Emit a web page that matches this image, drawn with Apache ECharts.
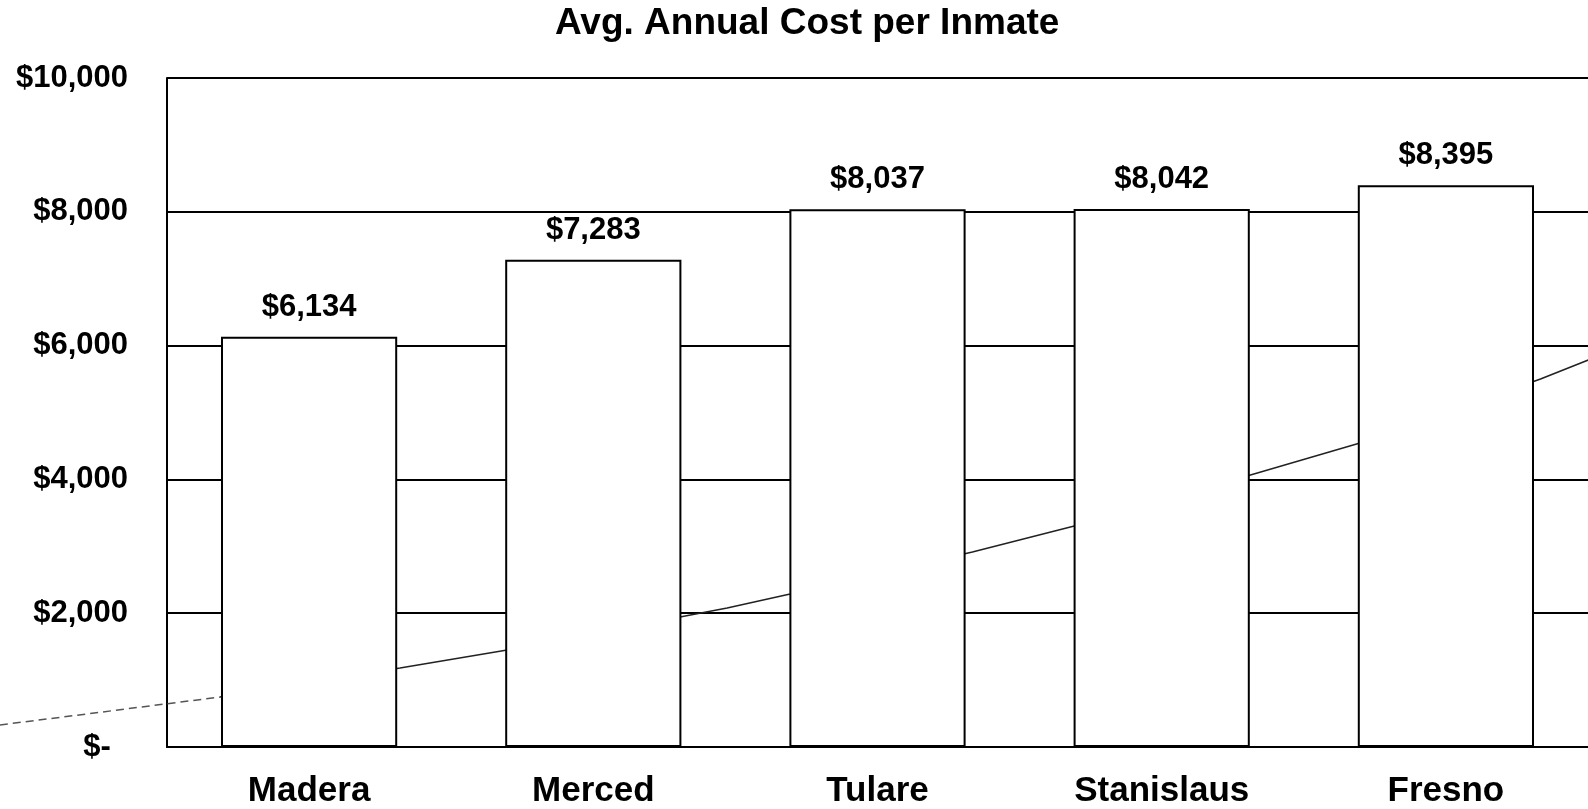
<!DOCTYPE html>
<html>
<head>
<meta charset="utf-8">
<script src="https://cdn.jsdelivr.net/npm/echarts@6/dist/echarts.min.js"></script>
<style>
  html, body { margin: 0; padding: 0; background: #fff; }
  #main { width: 1588px; height: 809px; }
</style>
</head>
<body>
<div id="main"></div>
<script>
// 数据
var counties = ['Madera', 'Merced', 'Tulare', 'Stanislaus', 'Fresno'];
var costPerInmate = [6134, 7283, 8037, 8042, 8395];
var yTickLabels = ['$-  ', '$2,000', '$4,000', '$6,000', '$8,000', '$10,000'];

// the faint rising line behind the bars (x in category units, y in dollars)
var lineX = [-1.086, -0.314, 0.317, 0.693, 1.464, 1.685, 2.324, 2.695, 3.323, 3.695, 4.316, 4.484];
var lineY = [329, 747, 1181, 1450, 2078, 2287, 2915, 3318, 4096, 4559, 5500, 5785];

var FONT = '"Liberation Sans", Arial, Helvetica, sans-serif';
var W = 1588, PLOT_LEFT = 167, PLOT_RIGHT = -5;

var myChart = echarts.init(document.getElementById('main'));

function money(v) {
    return '$' + String(v).replace(/\B(?=(\d{3})+(?!\d))/g, ',');
}

// 标题居中于 x=807
var titleText = 'Avg. Annual Cost per Inmate';
var titleSize = 37;
var ctx = document.createElement('canvas').getContext('2d');
ctx.font = 'bold ' + titleSize + 'px ' + FONT;
var titleW = ctx.measureText(titleText).width;

// 第二个网格覆盖整张画布，x 轴用同样的类目单位
var step = (W - PLOT_LEFT - PLOT_RIGHT) / counties.length;
var fullMin = -0.5 - PLOT_LEFT / step;
var fullMax = counties.length - 0.5 + PLOT_RIGHT / step;

var linePts = lineX.map(function (x, i) { return [x, lineY[i]]; });

var option = {
    backgroundColor: '#fff',
    animation: false,
    title: {
        text: titleText,
        left: Math.round(807 - titleW / 2),
        top: 5,
        padding: 0,
        textStyle: { fontFamily: FONT, fontWeight: 'bold', fontSize: titleSize, color: '#000' }
    },
    grid: [
        { left: PLOT_LEFT, right: PLOT_RIGHT, top: 78, bottom: 62 },
        { left: 0, right: 0, top: 78, bottom: 62 }
    ],
    xAxis: [{
        type: 'category',
        gridIndex: 0,
        data: counties,
        axisLine: { show: true, lineStyle: { color: '#000', width: 2 } },
        axisTick: { show: false },
        axisLabel: { margin: 27, fontFamily: FONT, fontWeight: 'bold', fontSize: 35, color: '#000' },
        splitLine: { show: false }
    }, {
        type: 'value',
        gridIndex: 1,
        min: fullMin,
        max: fullMax,
        show: false
    }],
    yAxis: [{
        type: 'value',
        gridIndex: 0,
        min: 0,
        max: 10000,
        interval: 2000,
        axisLine: { show: true, onZero: false, lineStyle: { color: '#000', width: 2 } },
        axisTick: { show: false },
        axisLabel: {
            margin: 39,
            fontFamily: FONT, fontWeight: 'bold', fontSize: 31, color: '#000',
            formatter: function (v) { return yTickLabels[Math.round(v / 2000)]; }
        },
        splitLine: { show: true, lineStyle: { color: '#000', width: 2 } }
    }, {
        type: 'value',
        gridIndex: 1,
        min: 0,
        max: 10000,
        show: false
    }],
    series: [{
        // 左端淡虚线部分
        type: 'line',
        xAxisIndex: 1,
        yAxisIndex: 1,
        data: linePts.slice(0, 2),
        symbol: 'none',
        z: 1,
        lineStyle: { color: '#555', width: 1.5, type: [8, 5] },
        silent: true
    }, {
        type: 'line',
        xAxisIndex: 1,
        yAxisIndex: 1,
        data: linePts.slice(1),
        symbol: 'none',
        z: 1,
        lineStyle: { color: '#222', width: 1.5 },
        silent: true
    }, {
        type: 'bar',
        data: costPerInmate,
        barCategoryGap: '38%',
        z: 3,
        itemStyle: { color: '#fff', borderColor: '#000', borderWidth: 2 },
        label: {
            show: true,
            position: 'top',
            distance: 14,
            fontFamily: FONT, fontWeight: 'bold', fontSize: 31, color: '#000',
            formatter: function (p) { return money(p.value); }
        }
    }]
};

myChart.setOption(option, true);
</script>
</body>
</html>
